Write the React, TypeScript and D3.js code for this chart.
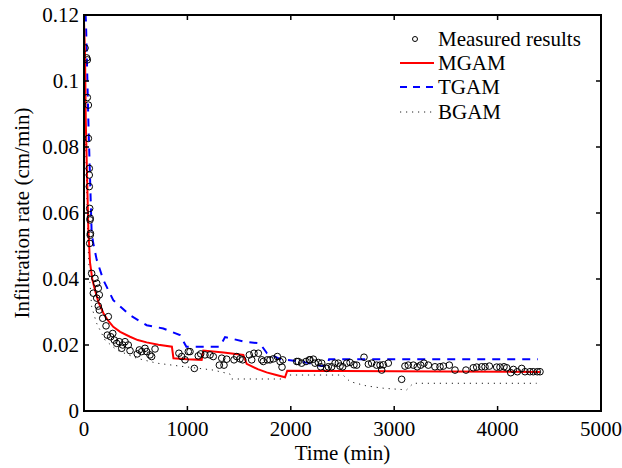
import React from "react";
import * as d3 from "d3";

const xTicks = [0, 1000, 2000, 3000, 4000, 5000];
const yTicks = [0, 0.02, 0.04, 0.06, 0.08, 0.1, 0.12];
const yTickLabels = ["0", "0.02", "0.04", "0.06", "0.08", "0.1", "0.12"];

const measuredT = [
  10, 26, 32, 32, 42, 42, 51, 51, 51, 55, 60, 58, 62, 60, 55, 74, 106, 123, 138, 90, 148, 123, 138, 148, 181, 235, 213, 225, 278, 258, 293, 316, 341, 374, 397, 365, 428, 445, 515, 535, 558, 590, 606, 638, 654, 687,
  918, 945, 977, 1009, 1025, 1067, 1105, 1129, 1170, 1219, 1250, 1309, 1354, 1332, 1380, 1451, 1477, 1509, 1535, 1599, 1622, 1644, 1686, 1719, 1734, 1773, 1799, 1831, 1870, 1896, 1922, 1915,
  2057, 2072, 2105, 2147, 2179, 2186, 2218, 2234, 2266, 2289, 2299, 2347, 2363, 2395, 2428, 2460, 2476, 2502, 2540, 2573, 2611, 2637, 2708, 2750, 2782, 2830, 2863, 2879, 2895, 2943,
  3072, 3104, 3136, 3185, 3223, 3256, 3288, 3330, 3394, 3443, 3475, 3533, 3588, 3694, 3765, 3798, 3846, 3878, 3920, 3991, 4023, 4062, 4088, 4127, 4153, 4191, 4233, 4265, 4313, 4345, 4384, 4410,
];
const measuredV = [
  0.11, 0.107, 0.1064, 0.095, 0.0927, 0.0826, 0.0735, 0.0715, 0.068, 0.0614, 0.0584, 0.0579, 0.0538, 0.0533, 0.0508, 0.0417, 0.0402, 0.0387, 0.0372, 0.0357, 0.0352, 0.0342, 0.0318, 0.0306, 0.0281, 0.0286, 0.0258, 0.023, 0.0235, 0.0225, 0.0215, 0.0205, 0.021, 0.02, 0.021, 0.019, 0.02, 0.0183, 0.0173, 0.0185, 0.018, 0.019, 0.018, 0.017, 0.0165, 0.0188,
  0.0175, 0.0165, 0.0155, 0.018, 0.018, 0.0129, 0.0167, 0.0173, 0.017, 0.017, 0.0165, 0.0139, 0.0139, 0.016, 0.0157, 0.0155, 0.0165, 0.0158, 0.0155, 0.017, 0.0155, 0.0175, 0.0175, 0.0155, 0.015, 0.0155, 0.0155, 0.0158, 0.0165, 0.015, 0.0155, 0.0133,
  0.015, 0.015, 0.0145, 0.015, 0.0155, 0.0155, 0.0157, 0.0145, 0.0147, 0.0134, 0.0145, 0.0129, 0.0134, 0.0134, 0.0145, 0.0145, 0.0136, 0.0134, 0.0145, 0.0147, 0.014, 0.0139, 0.0163, 0.0142, 0.0145, 0.0139, 0.0139, 0.0124, 0.014, 0.0145,
  0.0096, 0.0136, 0.0139, 0.0139, 0.0134, 0.0139, 0.0145, 0.0139, 0.0134, 0.0134, 0.0136, 0.0139, 0.0124, 0.0124, 0.0131, 0.0133, 0.0134, 0.0134, 0.0136, 0.0133, 0.0133, 0.0134, 0.0131, 0.0116, 0.0126, 0.0119, 0.0129, 0.0119, 0.0119, 0.0119, 0.0119, 0.0119,
];

const mgamT = [0, 10, 17, 32, 42, 58, 80, 106, 140, 187, 230, 283, 350, 445, 520, 606, 720, 850, 865, 1000, 1138, 1154, 1350, 1541, 1573, 1680, 1766, 1860, 1944, 1966, 2500, 3500, 4410];
const mgamV = [0.118, 0.108, 0.088, 0.068, 0.055, 0.045, 0.04, 0.0367, 0.033, 0.0297, 0.0275, 0.0255, 0.024, 0.0225, 0.0215, 0.0208, 0.0201, 0.0195, 0.016, 0.0157, 0.0155, 0.0183, 0.0177, 0.017, 0.0143, 0.0127, 0.0117, 0.0109, 0.0102, 0.0122, 0.0121, 0.012, 0.0118];

const tgamT = [5, 19, 42, 74, 90, 123, 187, 283, 445, 606, 767, 928, 990, 1315, 1364, 1550, 1700, 1770, 1900, 2100, 2300, 2350, 2370, 4390];
const tgamV = [0.125, 0.118, 0.088, 0.054, 0.0508, 0.0458, 0.0397, 0.0336, 0.029, 0.026, 0.025, 0.023, 0.0195, 0.0195, 0.0224, 0.021, 0.0205, 0.0175, 0.0157, 0.015, 0.0136, 0.0136, 0.0157, 0.0157];

const bgamT = [0, 20, 40, 51, 74, 122, 203, 316, 509, 703, 928, 1250, 1412, 1428, 1928, 1960, 2505, 2573, 2733, 2895, 3120, 3184, 4378];
const bgamV = [0.11, 0.075, 0.05, 0.0417, 0.0316, 0.0266, 0.0215, 0.0185, 0.016, 0.0145, 0.0136, 0.0124, 0.0112, 0.0097, 0.0097, 0.0109, 0.0109, 0.0089, 0.0076, 0.0069, 0.0064, 0.0084, 0.0084];

const legendLabels = ["Measured results", "MGAM", "TGAM", "BGAM"];

const W = 622;
const H = 468;
const L = 84, R = 601, T = 15, B = 411;
const FONT = "Liberation Serif, Times New Roman, Times, DejaVu Serif, serif";
const FS = 21;

export default function App() {
  const x = d3.scaleLinear().domain([0, 5000]).range([L, R]);
  const y = d3.scaleLinear().domain([0, 0.12]).range([B, T]);
  const line = d3
    .line<[number, number]>()
    .x((d) => x(d[0]))
    .y((d) => y(d[1]));
  const zip = (a: number[], b: number[]) => a.map((t, i) => [t, b[i]] as [number, number]);

  const tick = 5;
  const legendY = [39, 63, 87, 112];
  const txt = { fontFamily: FONT, fontSize: FS };

  return (
    <svg width={W} height={H} style={{ position: "absolute", left: 0, top: 0, background: "#fff" }}>
      <defs>
        <clipPath id="plotclip">
          <rect x={L} y={T} width={R - L} height={B - T} />
        </clipPath>
      </defs>
      <rect x={0} y={0} width={W} height={H} fill="#fff" />
      <g clipPath="url(#plotclip)" fill="none">
        <path d={line(zip(bgamT, bgamV)) || ""} stroke="#222" strokeWidth={1} strokeDasharray="1.2,4.8" />
        <path d={line(zip(tgamT, tgamV)) || ""} stroke="#0000ff" strokeWidth={2} strokeDasharray="8,7" />
        <path d={line(zip(mgamT, mgamV)) || ""} stroke="#ff0000" strokeWidth={2} />
        {measuredT.map((t, i) => (
          <circle key={i} cx={x(t)} cy={y(measuredV[i])} r={3.3} stroke="#000" strokeWidth={1} fill="none" />
        ))}
      </g>
      <rect x={L} y={T} width={R - L} height={B - T} fill="none" stroke="#000" strokeWidth={2} />
      {xTicks.map((t) => (
        <g key={"x" + t}>
          <line x1={x(t)} x2={x(t)} y1={B} y2={B - tick} stroke="#000" strokeWidth={1.5} />
          <line x1={x(t)} x2={x(t)} y1={T} y2={T + tick} stroke="#000" strokeWidth={1.5} />
          <text x={x(t)} y={436} textAnchor="middle" style={txt}>
            {t}
          </text>
        </g>
      ))}
      {yTicks.map((v, i) => (
        <g key={"y" + v}>
          <line x1={L} x2={L + tick} y1={y(v)} y2={y(v)} stroke="#000" strokeWidth={1.5} />
          <line x1={R} x2={R - tick} y1={y(v)} y2={y(v)} stroke="#000" strokeWidth={1.5} />
          <text x={79} y={y(v)} dy="0.35em" textAnchor="end" style={txt}>
            {yTickLabels[i]}
          </text>
        </g>
      ))}
      <text x={(L + R) / 2} y={460} textAnchor="middle" style={txt}>
        Time (min)
      </text>
      <text transform={`translate(29,${(T + B) / 2}) rotate(-90)`} textAnchor="middle" style={txt}>
        Infiltration rate (cm/min)
      </text>
      <g>
        <circle cx={415} cy={legendY[0]} r={2.5} stroke="#000" strokeWidth={1} fill="none" />
        <line x1={400} x2={434} y1={legendY[1]} y2={legendY[1]} stroke="#ff0000" strokeWidth={2} />
        <line x1={400} x2={434} y1={legendY[2]} y2={legendY[2]} stroke="#0000ff" strokeWidth={2} strokeDasharray="7,6" />
        <line x1={400} x2={434} y1={legendY[3]} y2={legendY[3]} stroke="#222" strokeWidth={1} strokeDasharray="1.2,4.8" />
        {legendLabels.map((l, i) => (
          <text key={l} x={438} y={legendY[i]} dy="0.35em" style={txt}>
            {l}
          </text>
        ))}
      </g>
    </svg>
  );
}
